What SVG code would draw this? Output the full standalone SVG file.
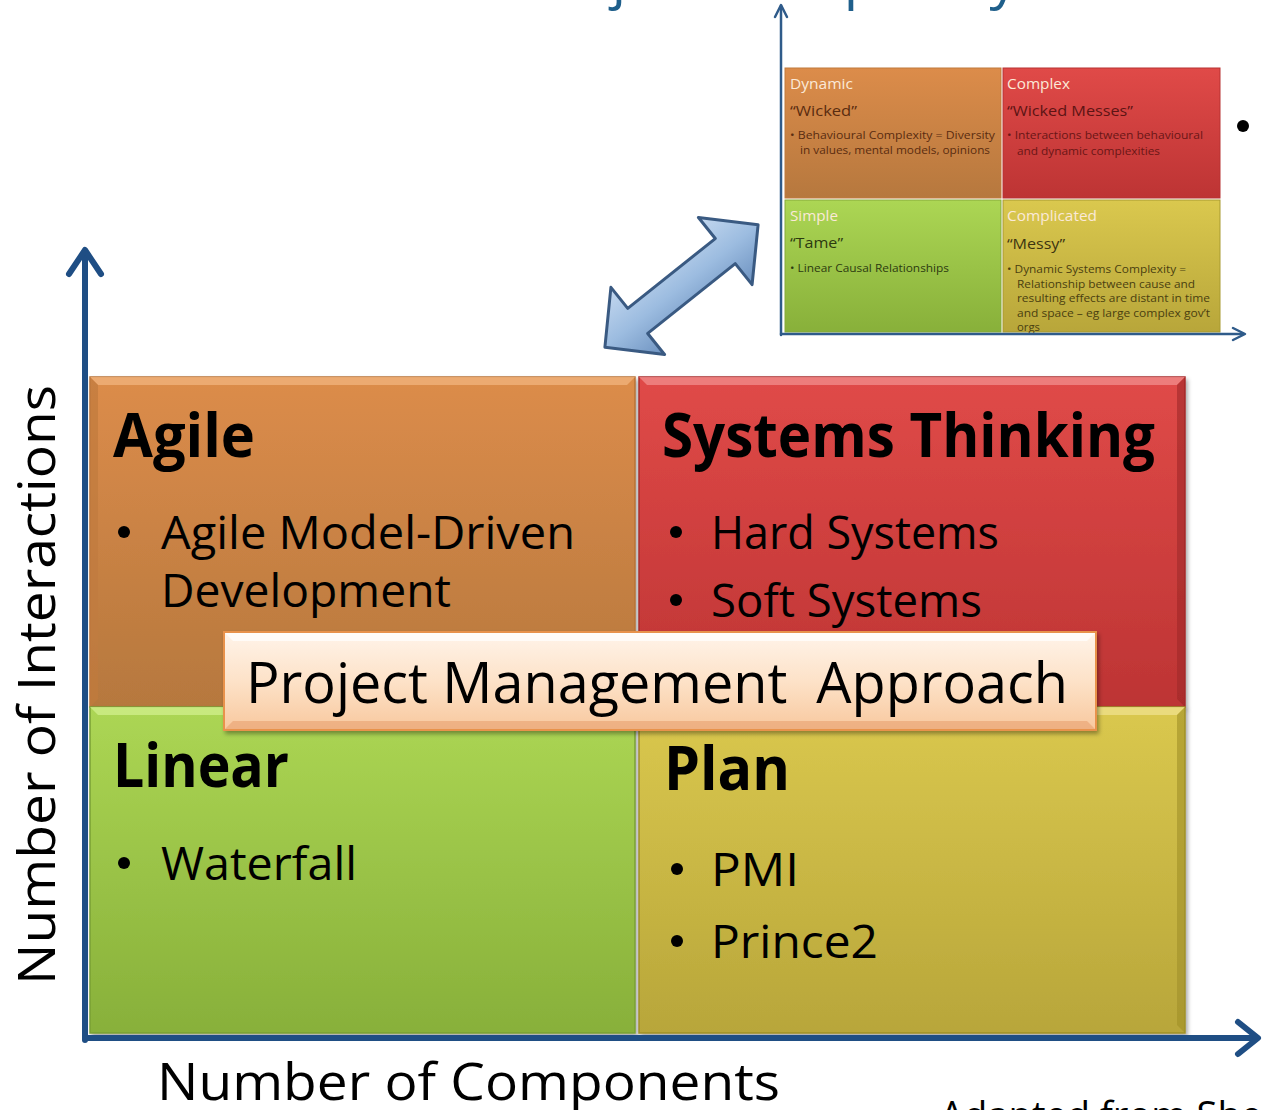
<svg xmlns="http://www.w3.org/2000/svg" width="1262" height="1110" viewBox="0 0 1262 1110">
<style>
text{font-family:"Open Sans","Liberation Sans",Arial,sans-serif;}
.hd{font-weight:bold;font-size:60px;fill:#000;}
.bt{font-size:46px;fill:#000;}
.ax{fill:none;stroke:#1f4e84;stroke-width:6;stroke-linecap:round;stroke-linejoin:round;}
.sax{fill:none;stroke:#2f5b8a;stroke-width:2.5;stroke-linecap:round;stroke-linejoin:round;}
.lbl{font-size:14px;fill:#fbe9d8;}
.q{font-size:15px;}
.sm{font-size:10px;}
</style>
<defs>
<linearGradient id="gO" x1="0" y1="0" x2="0" y2="1"><stop offset="0" stop-color="#dc8c4a"/><stop offset="1" stop-color="#b6783e"/></linearGradient>
<linearGradient id="gR" x1="0" y1="0" x2="0" y2="1"><stop offset="0" stop-color="#e04a48"/><stop offset="1" stop-color="#bd3434"/></linearGradient>
<linearGradient id="gG" x1="0" y1="0" x2="0" y2="1"><stop offset="0" stop-color="#acd654"/><stop offset="1" stop-color="#88b03a"/></linearGradient>
<linearGradient id="gY" x1="0" y1="0" x2="0" y2="1"><stop offset="0" stop-color="#dac84e"/><stop offset="1" stop-color="#b8a63a"/></linearGradient>
<linearGradient id="gP" x1="0" y1="0" x2="0" y2="1"><stop offset="0" stop-color="#fff4ea"/><stop offset="0.5" stop-color="#fde2c8"/><stop offset="1" stop-color="#f8c89e"/></linearGradient>
<linearGradient id="gA" x1="0" y1="0" x2="0" y2="1"><stop offset="0" stop-color="#c4d8ef"/><stop offset="0.5" stop-color="#9cbce0"/><stop offset="1" stop-color="#6d92c0"/></linearGradient>
<filter id="sh" x="-5%" y="-5%" width="110%" height="115%"><feDropShadow dx="2" dy="3" stdDeviation="2" flood-color="#000" flood-opacity="0.35"/></filter>
</defs>

<!-- title fragment (cut off at top) -->
<text x="520" y="-3" font-size="57" fill="#1f5f8b">Project Complexity</text>

<!-- small reference matrix -->
<g id="small-matrix">
  <g id="s-dynamic">
    <rect x="785" y="68" width="216" height="130" fill="url(#gO)" stroke="#c07a3c" stroke-width="1"/>
    <text class="lbl" x="790" y="89" textLength="63" lengthAdjust="spacingAndGlyphs">Dynamic</text>
    <text class="q" x="790" y="116" fill="#5a2c10" textLength="67" lengthAdjust="spacingAndGlyphs">“Wicked”</text>
    <text class="sm" x="790" y="139" fill="#5a2c10" textLength="205" lengthAdjust="spacingAndGlyphs">• Behavioural Complexity =  Diversity</text>
    <text class="sm" x="800" y="154" fill="#5a2c10" textLength="190" lengthAdjust="spacingAndGlyphs">in values, mental models, opinions</text>
  </g>
  <g id="s-complex">
    <rect x="1003" y="68" width="217" height="130" fill="url(#gR)" stroke="#b83232" stroke-width="1"/>
    <text class="lbl" x="1007" y="89" textLength="63" lengthAdjust="spacingAndGlyphs">Complex</text>
    <text class="q" x="1007" y="116" fill="#5c1414" textLength="126" lengthAdjust="spacingAndGlyphs">“Wicked Messes”</text>
    <text class="sm" x="1007" y="139" fill="#6a1616" textLength="196" lengthAdjust="spacingAndGlyphs">• Interactions between behavioural</text>
    <text class="sm" x="1017" y="155" fill="#6a1616" textLength="143" lengthAdjust="spacingAndGlyphs">and dynamic complexities</text>
  </g>
  <g id="s-simple">
    <rect x="785" y="200" width="216" height="132" fill="url(#gG)" stroke="#86aa3a" stroke-width="1"/>
    <text class="lbl" x="790" y="221" fill="#eef8d8" textLength="48" lengthAdjust="spacingAndGlyphs">Simple</text>
    <text class="q" x="790" y="248" fill="#2c3a10" textLength="53" lengthAdjust="spacingAndGlyphs">“Tame”</text>
    <text class="sm" x="790" y="272" fill="#2c3a10" textLength="159" lengthAdjust="spacingAndGlyphs">• Linear Causal Relationships</text>
  </g>
  <g id="s-complicated">
    <rect x="1003" y="200" width="217" height="132" fill="url(#gY)" stroke="#a89a30" stroke-width="1"/>
    <text class="lbl" x="1007" y="221" fill="#f8f2d0" textLength="90" lengthAdjust="spacingAndGlyphs">Complicated</text>
    <text class="q" x="1007" y="249" fill="#3c3410" textLength="58" lengthAdjust="spacingAndGlyphs">“Messy”</text>
    <text class="sm" x="1007" y="273" fill="#4a4010" textLength="179" lengthAdjust="spacingAndGlyphs">• Dynamic Systems Complexity =</text>
    <text class="sm" x="1017" y="288" fill="#4a4010" textLength="178" lengthAdjust="spacingAndGlyphs">Relationship between cause and</text>
    <text class="sm" x="1017" y="302" fill="#4a4010" textLength="193" lengthAdjust="spacingAndGlyphs">resulting effects are distant in time</text>
    <text class="sm" x="1017" y="317" fill="#4a4010" textLength="193" lengthAdjust="spacingAndGlyphs">and space – eg large complex gov’t</text>
    <text class="sm" x="1017" y="331" fill="#4a4010" textLength="23" lengthAdjust="spacingAndGlyphs">orgs</text>
  </g>
  <circle cx="1243" cy="126" r="6" fill="#000"/>
</g>

<!-- main quadrants -->
<g id="agile" filter="url(#sh)">
  <rect x="90" y="377" width="545" height="330" fill="url(#gO)" stroke="#b87236" stroke-width="1.5"/>
  <polygon points="90,377 635,377 627,385 98,385" fill="#f0b27a" opacity="0.8"/>
  <polygon points="90,377 98,385 98,699 90,707" fill="#c07a3e" opacity="0.7"/>
</g>
<g id="systems-thinking" filter="url(#sh)">
  <rect x="639" y="377" width="546" height="330" fill="url(#gR)" stroke="#a82c2c" stroke-width="1.5"/>
  <polygon points="639,377 1185,377 1177,385 647,385" fill="#f08a88" opacity="0.8"/>
  <polygon points="1185,377 1185,707 1177,699 1177,385" fill="#9e2828" opacity="0.6"/>
</g>
<g id="linear" filter="url(#sh)">
  <rect x="90" y="707" width="545" height="326" fill="url(#gG)" stroke="#7aa034" stroke-width="1.5"/>
  <polygon points="90,707 635,707 627,715 98,715" fill="#d0ee8a" opacity="0.8"/>
</g>
<g id="plan" filter="url(#sh)">
  <rect x="639" y="707" width="546" height="326" fill="url(#gY)" stroke="#a09028" stroke-width="1.5"/>
  <polygon points="639,707 1185,707 1177,715 647,715" fill="#eee08a" opacity="0.8"/>
  <polygon points="1185,707 1185,1033 1177,1025 1177,715" fill="#a09028" opacity="0.6"/>
</g>

<!-- quadrant texts -->
<g id="agile-text">
  <text class="hd" x="113" y="457" textLength="142" lengthAdjust="spacingAndGlyphs">Agile</text>
  <circle cx="124" cy="532" r="6" fill="#000"/>
  <text class="bt" x="161" y="549" textLength="414" lengthAdjust="spacingAndGlyphs">Agile Model-Driven</text>
  <text class="bt" x="161" y="607" textLength="290" lengthAdjust="spacingAndGlyphs">Development</text>
</g>
<g id="systems-text">
  <text class="hd" x="662" y="457" textLength="493" lengthAdjust="spacingAndGlyphs">Systems Thinking</text>
  <circle cx="676" cy="532" r="6" fill="#000"/>
  <text class="bt" x="711" y="549" textLength="288" lengthAdjust="spacingAndGlyphs">Hard Systems</text>
  <circle cx="676" cy="600" r="6" fill="#000"/>
  <text class="bt" x="711" y="617" textLength="271" lengthAdjust="spacingAndGlyphs">Soft Systems</text>
</g>
<g id="linear-text">
  <text class="hd" x="113" y="787" textLength="176" lengthAdjust="spacingAndGlyphs">Linear</text>
  <circle cx="124" cy="863" r="6" fill="#000"/>
  <text class="bt" x="161" y="880" textLength="196" lengthAdjust="spacingAndGlyphs">Waterfall</text>
</g>
<g id="plan-text">
  <text class="hd" x="664" y="790" textLength="126" lengthAdjust="spacingAndGlyphs">Plan</text>
  <circle cx="677" cy="869" r="6" fill="#000"/>
  <text class="bt" x="711" y="886" textLength="88" lengthAdjust="spacingAndGlyphs">PMI</text>
  <circle cx="677" cy="941" r="6" fill="#000"/>
  <text class="bt" x="711" y="958" textLength="167" lengthAdjust="spacingAndGlyphs">Prince2</text>
</g>

<!-- central label -->
<g id="pm-approach" filter="url(#sh)">
  <rect x="224" y="632" width="872" height="98" fill="url(#gP)" stroke="#e8924c" stroke-width="2"/>
  <polygon points="225,633 1095,633 1087,641 233,641" fill="#ffffff" opacity="0.7"/>
  <polygon points="225,729 1095,729 1087,721 233,721" fill="#e8a070" opacity="0.6"/>
  <text x="246" y="703" font-size="56" fill="#000" xml:space="preserve" textLength="822" lengthAdjust="spacingAndGlyphs">Project Management  Approach</text>
</g>

<!-- connectors and axes -->
<g id="connectors">
  <polyline class="ax" points="85,1040 85,252"/>
  <polyline class="ax" points="69,274 85,250 101,274"/>
  <polyline class="ax" points="85,1038 1256,1038"/>
  <polyline class="ax" points="1238,1022 1258,1038 1238,1054"/>
  <polyline class="sax" points="781,335 781,6"/>
  <polyline class="sax" points="775,17 781,5 787,17"/>
  <polyline class="sax" points="781,334 1243,334"/>
  <polyline class="sax" points="1233,328 1245,334 1233,340"/>
  <g transform="translate(681.5,286) rotate(-38.6)">
    <polygon points="-98,0 -56,-43 -56,-16 56,-16 56,-43 98,0 56,43 56,16 -56,16 -56,43" fill="url(#gA)" stroke="#3a5a82" stroke-width="3" stroke-linejoin="round"/>
  </g>
</g>

<!-- axis labels -->
<text x="157" y="1100" font-size="52" fill="#000" textLength="623" lengthAdjust="spacingAndGlyphs">Number of Components</text>
<text transform="translate(55,985) rotate(-90)" font-size="52" fill="#000" textLength="600" lengthAdjust="spacingAndGlyphs">Number of Interactions</text>
<text x="940" y="1129" font-size="38" fill="#000" textLength="335" lengthAdjust="spacingAndGlyphs">Adapted from Shef</text>
</svg>
